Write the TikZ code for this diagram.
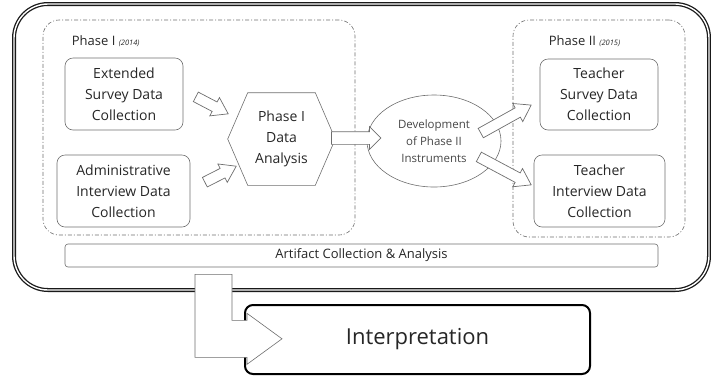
\documentclass[tikz,border=0pt]{standalone}
\usepackage{fontspec}
\setmainfont{Open Sans}
\usepackage{xcolor}
\usetikzlibrary{positioning, calc, shapes.geometric, shapes.arrows}

\definecolor{txt}{HTML}{262626}
\definecolor{edge}{HTML}{6E6E6E}

\newcommand{\blockarr}[3][]{%
  \path let \p1=(#2), \p2=(#3),
    \n1={atan2(\y2-\y1,\x2-\x1)}, \n2={veclen(\x2-\x1,\y2-\y1)} in
    node[flowarr, #1, minimum height=\n2, rotate=\n1] at ($(\p1)!0.5!(\p2)$) {};}

\begin{document}
\begin{tikzpicture}[
  x=1pt, y=-1pt,
  frame/.style={draw=black!90, line width=1.3pt, double=white,
                double distance=1.4pt, rounded corners=34pt},
  phasebox/.style={draw=edge, line width=0.6pt,
                   dash pattern=on 4pt off 2pt on 1pt off 2pt,
                   rounded corners=16pt},
  box/.style={draw=edge, line width=0.6pt, rounded corners=8pt, text=txt,
              align=center, font=\fontsize{14}{21}\selectfont, inner sep=0pt},
  lbl/.style={text=txt, font=\fontsize{13}{15}\selectfont, inner sep=0pt},
  flowarr/.style={single arrow, draw=edge, line width=0.7pt, fill=white,
                  inner xsep=0pt, inner ysep=5pt,
                  single arrow head extend=5pt, single arrow tip angle=68},
  bentarr/.style={draw=edge, line width=0.6pt, fill=white},
]
\useasboundingbox (0,0) rectangle (711,376);

\node[frame, minimum width=695, minimum height=286] (frame) at (361.5,147) {};
\node[phasebox, minimum width=312, minimum height=215] (ph1) at (199,127.5) {};
\node[phasebox, minimum width=172, minimum height=217] (ph2) at (599,128.5) {};
\node[lbl, anchor=west] (ph1lbl) at ($(ph1.north west)+(29,21)$)
  {Phase I {\fontsize{7.5}{8}\itshape\selectfont(2014)}};
\node[lbl, anchor=west] (ph2lbl) at ($(ph2.north west)+(36,21)$)
  {Phase II {\fontsize{7.5}{8}\itshape\selectfont(2015)}};

\node[box, minimum width=118, minimum height=72] (ext) at (124,94)
  {Extended\\Survey Data\\Collection};
\node[box, minimum width=133, minimum height=72] (adm) at (123.5,191)
  {Administrative\\Interview Data\\Collection};
\node[box, draw=none, minimum width=107, minimum height=92] (ana) at (281.5,139)
  {Phase I\\Data\\Analysis};
\draw[edge, line width=0.6pt] (ana.west) -- ($(ana.north west)+(20,0)$)
  -- ($(ana.north east)+(-20,0)$) -- (ana.east) -- ($(ana.south east)+(-20,0)$)
  -- ($(ana.south west)+(20,0)$) -- cycle;
\node[ellipse, draw=edge, line width=0.6pt, text=txt!85, align=center,
  inner sep=0pt, minimum width=134, minimum height=92,
  font=\fontsize{11.5}{17}\selectfont]
  (dev) at (434,141) {Development\\of Phase II\\Instruments};
\node[box, minimum width=118, minimum height=71] (tsv) at (599,94.5)
  {Teacher\\Survey Data\\Collection};
\node[box, minimum width=131, minimum height=72] (tiv) at (599.5,191)
  {Teacher\\Interview Data\\Collection};
\node[box, rounded corners=3pt, minimum width=593, minimum height=23,
  font=\fontsize{13}{15}\selectfont] (art) at (361.5,255.5)
  {Artifact Collection \& Analysis};
\node[box, draw=black, line width=2pt, minimum width=345, minimum height=69,
  font=\fontsize{22}{26}\selectfont] (int) at (417.5,339.5) {Interpretation};

\blockarr{$(ext.east)+(9,1)$}{$(ana.west)+(-3,-27)$}
\blockarr{$(adm.east)+(11,-7)$}{$(ana.west)+(5,29)$}
\blockarr[inner ysep=6pt, single arrow tip angle=90]{$(ana.east)+(-7,-1)$}{$(dev.west)+(11,-3)$}
\blockarr{$(dev.east)+(-24,-6)$}{$(tsv.west)+(-12,12.5)$}
\blockarr{$(dev.east)+(-26,14)$}{$(tiv.west)+(-6,-8)$}

\coordinate (bend) at ($(art.south)+(-148,7)$);
\draw[bentarr] (bend) ++(-18.5,0) -- ++(37,0) -- ++(0,46) -- ++(15,0)
  -- ++(0,-7) -- ++(35,25.5) -- ++(-35,25.5) -- ++(0,-7) -- ++(-52,0) -- cycle;
\end{tikzpicture}
\end{document}
